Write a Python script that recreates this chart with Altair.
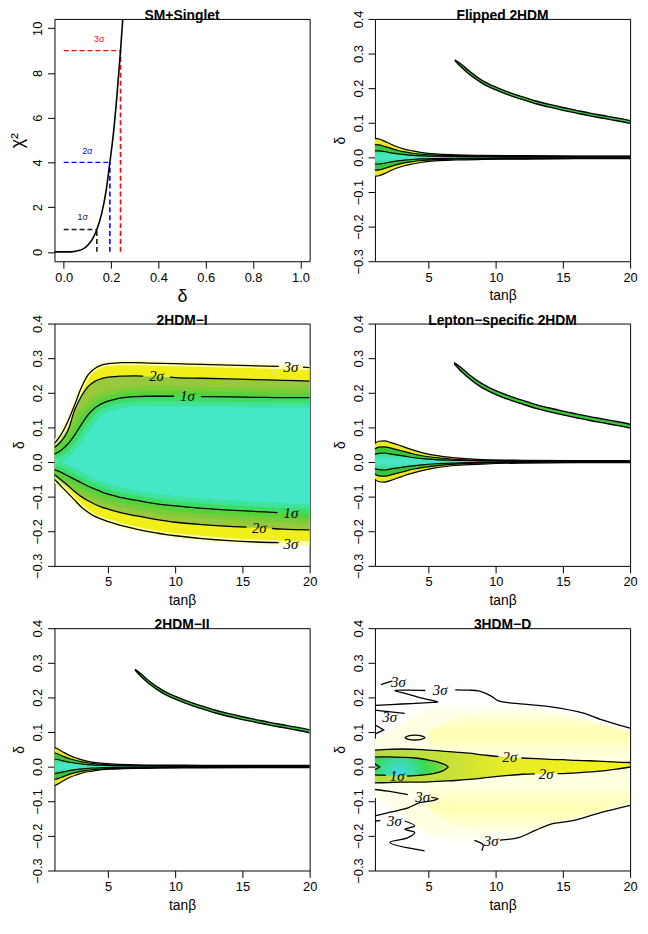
import altair as alt
import pandas as pd

FONT = "Liberation Sans"

# ================= panel titles =================
TITLES = ["SM+Singlet", "Flipped 2HDM", "2HDM−I", "Lepton−specific 2HDM", "2HDM−II", "3HDM−D"]

# ================= SM+Singlet =================
SM_DELTA = [-0.04, 0.0, 0.02, 0.04, 0.06, 0.08, 0.10, 0.12, 0.14, 0.16, 0.18, 0.195, 0.21, 0.225, 0.24, 0.25]
SM_CHI2 = [0.0, 0.0, 0.0, 0.01, 0.05, 0.12, 0.28, 0.55, 1.0, 1.7, 2.8, 4.0, 5.3, 7.0, 9.0, 10.5]
SM_LEVEL_NAME = ["1σ", "2σ", "3σ"]
SM_LEVEL_CHI2 = [1, 4, 9]
SM_LEVEL_DELTA = [0.14, 0.195, 0.24]
SM_LEVEL_COLOR = ["#1a1a1a", "#0000ff", "#ff0000"]
SM_LABEL_X = [0.08, 0.10, 0.15]
SM_LABEL_Y = [1.55, 4.5, 9.5]

# ================= 2HDM-I =================
T1_X = [1, 1.5, 2, 2.5, 3, 3.5, 4, 4.5, 5, 5.5, 6, 7, 8, 10, 12, 14, 16, 18, 20]
T1_U3 = [0.054, 0.080, 0.118, 0.165, 0.215, 0.252, 0.270, 0.280, 0.284, 0.286, 0.287, 0.287, 0.286, 0.284, 0.282, 0.280, 0.278, 0.275, 0.273]
T1_U2 = [0.042, 0.060, 0.090, 0.150, 0.190, 0.218, 0.233, 0.241, 0.245, 0.247, 0.248, 0.249, 0.247, 0.244, 0.242, 0.240, 0.238, 0.236, 0.234]
T1_U1 = [0.023, 0.034, 0.052, 0.078, 0.108, 0.136, 0.156, 0.168, 0.176, 0.181, 0.185, 0.189, 0.190, 0.190, 0.189, 0.188, 0.187, 0.186, 0.186]
T1_L1 = [-0.022, -0.030, -0.040, -0.050, -0.060, -0.070, -0.078, -0.086, -0.093, -0.098, -0.103, -0.110, -0.117, -0.127, -0.134, -0.139, -0.143, -0.147, -0.150]
T1_L2 = [-0.036, -0.052, -0.068, -0.085, -0.100, -0.112, -0.122, -0.130, -0.136, -0.142, -0.147, -0.155, -0.162, -0.174, -0.181, -0.186, -0.190, -0.194, -0.196]
T1_L3 = [-0.050, -0.070, -0.090, -0.110, -0.130, -0.145, -0.157, -0.165, -0.172, -0.178, -0.184, -0.193, -0.201, -0.213, -0.221, -0.227, -0.231, -0.234, -0.236]
# contour lines (None = gap for the label)
T1_U3_LX = [1, 1.5, 2, 2.5, 3, 3.5, 4, 4.5, 5, 5.5, 6, 7, 8, 10, 12, 14, 16, 17.7, None, 19.5, 20]
T1_U3_LY = [0.054, 0.080, 0.118, 0.165, 0.215, 0.252, 0.270, 0.280, 0.284, 0.286, 0.287, 0.287, 0.286, 0.284, 0.282, 0.280, 0.278, 0.276, None, 0.274, 0.273]
T1_U2_LX = [1, 1.5, 2, 2.5, 3, 3.5, 4, 4.5, 5, 5.5, 6, 7, 7.6, None, 9.6, 10, 12, 14, 16, 18, 20]
T1_U2_LY = [0.042, 0.060, 0.090, 0.150, 0.190, 0.218, 0.233, 0.241, 0.245, 0.247, 0.248, 0.249, 0.248, None, 0.245, 0.244, 0.242, 0.240, 0.238, 0.236, 0.234]
T1_U1_LX = [1, 1.5, 2, 2.5, 3, 3.5, 4, 4.5, 5, 5.5, 6, 7, 8, 9.9, None, 11.9, 14, 16, 18, 20]
T1_U1_LY = [0.023, 0.034, 0.052, 0.078, 0.108, 0.136, 0.156, 0.168, 0.176, 0.181, 0.185, 0.189, 0.190, 0.190, None, 0.189, 0.188, 0.187, 0.186, 0.186]
T1_L1_LX = [1, 1.5, 2, 2.5, 3, 3.5, 4, 4.5, 5, 5.5, 6, 7, 8, 10, 12, 14, 16, 17.6]
T1_L1_LY = [-0.022, -0.030, -0.040, -0.050, -0.060, -0.070, -0.078, -0.086, -0.093, -0.098, -0.103, -0.110, -0.117, -0.127, -0.134, -0.139, -0.143, -0.146]
T1_L2_LX = [1, 1.5, 2, 2.5, 3, 3.5, 4, 4.5, 5, 5.5, 6, 7, 8, 10, 12, 14, 15.3, None, 17.2, 18, 20]
T1_L2_LY = [-0.036, -0.052, -0.068, -0.085, -0.100, -0.112, -0.122, -0.130, -0.136, -0.142, -0.147, -0.155, -0.162, -0.174, -0.181, -0.186, -0.188, None, -0.192, -0.194, -0.196]
T1_L3_LX = [1, 1.5, 2, 2.5, 3, 3.5, 4, 4.5, 5, 5.5, 6, 7, 8, 10, 12, 14, 16, 17.7]
T1_L3_LY = [-0.050, -0.070, -0.090, -0.110, -0.130, -0.145, -0.157, -0.165, -0.172, -0.178, -0.184, -0.193, -0.201, -0.213, -0.221, -0.227, -0.231, -0.233]
T1_LAB_X = [18.6, 8.6, 10.9, 18.6, 16.25, 18.6]
T1_LAB_Y = [0.273, 0.248, 0.190, -0.148, -0.192, -0.236]
T1_LAB_T = ["3σ", "2σ", "1σ", "1σ", "2σ", "3σ"]

# ================= narrow-band models =================
NB_X = [1, 1.3, 1.7, 2.2, 2.7, 3.2, 3.8, 4.5, 5.5, 7, 9, 12, 16, 20]
# Flipped 2HDM
FL_U3 = [0.055, 0.053, 0.047, 0.038, 0.030, 0.024, 0.019, 0.014, 0.010, 0.0075, 0.006, 0.005, 0.004, 0.004]
FL_U2 = [0.037, 0.036, 0.032, 0.026, 0.020, 0.016, 0.012, 0.009, 0.0065, 0.005, 0.004, 0.0035, 0.003, 0.003]
FL_U1 = [0.019, 0.019, 0.017, 0.013, 0.010, 0.008, 0.006, 0.0045, 0.0035, 0.0025, 0.002, 0.0015, 0.0015, 0.0015]
FL_L1 = [-0.019, -0.019, -0.017, -0.013, -0.010, -0.008, -0.006, -0.0045, -0.0035, -0.0025, -0.002, -0.0015, -0.0015, -0.0015]
FL_L2 = [-0.037, -0.036, -0.032, -0.026, -0.020, -0.016, -0.012, -0.009, -0.0065, -0.005, -0.004, -0.0035, -0.003, -0.003]
FL_L3 = [-0.055, -0.053, -0.047, -0.038, -0.030, -0.024, -0.019, -0.014, -0.010, -0.0075, -0.006, -0.005, -0.004, -0.004]
FL_SX = [6.95, 7.5, 8, 9, 10, 11, 12, 13, 14, 15, 16, 17, 18, 19, 20]
FL_SU = [0.282, 0.267, 0.250, 0.222, 0.203, 0.188, 0.175, 0.163, 0.153, 0.144, 0.136, 0.128, 0.121, 0.114, 0.106]
FL_SL = [0.280, 0.258, 0.241, 0.214, 0.195, 0.180, 0.167, 0.155, 0.145, 0.136, 0.128, 0.120, 0.113, 0.106, 0.098]
# Lepton-specific 2HDM
LS_U3 = [0.054, 0.060, 0.061, 0.056, 0.050, 0.043, 0.035, 0.027, 0.019, 0.012, 0.007, 0.005, 0.004, 0.004]
LS_U2 = [0.038, 0.043, 0.044, 0.040, 0.035, 0.030, 0.024, 0.018, 0.013, 0.008, 0.005, 0.004, 0.003, 0.003]
LS_U1 = [0.022, 0.025, 0.026, 0.023, 0.020, 0.017, 0.013, 0.010, 0.007, 0.005, 0.003, 0.002, 0.002, 0.002]
LS_L1 = [-0.019, -0.022, -0.023, -0.020, -0.017, -0.014, -0.011, -0.008, -0.005, -0.003, -0.001, 0.000, 0.000, 0.000]
LS_L2 = [-0.035, -0.040, -0.041, -0.037, -0.032, -0.027, -0.021, -0.016, -0.011, -0.006, -0.003, -0.001, 0.000, 0.000]
LS_L3 = [-0.050, -0.057, -0.058, -0.053, -0.046, -0.039, -0.032, -0.025, -0.017, -0.010, -0.006, -0.003, -0.002, -0.002]
LS_SX = [6.9, 7.5, 8, 9, 10, 11, 12, 13, 14, 15, 16, 17, 18, 19, 20]
LS_SU = [0.287, 0.270, 0.253, 0.226, 0.206, 0.191, 0.178, 0.166, 0.156, 0.147, 0.139, 0.131, 0.124, 0.117, 0.109]
LS_SL = [0.284, 0.259, 0.242, 0.214, 0.195, 0.180, 0.167, 0.155, 0.145, 0.136, 0.128, 0.120, 0.113, 0.106, 0.098]
# 2HDM-II
T2_U3 = [0.056, 0.050, 0.041, 0.031, 0.024, 0.018, 0.013, 0.010, 0.0075, 0.0055, 0.0045, 0.004, 0.0035, 0.0035]
T2_U2 = [0.040, 0.036, 0.029, 0.022, 0.017, 0.013, 0.009, 0.007, 0.005, 0.004, 0.003, 0.0025, 0.002, 0.002]
T2_U1 = [0.022, 0.020, 0.016, 0.012, 0.009, 0.007, 0.005, 0.004, 0.003, 0.002, 0.0015, 0.001, 0.001, 0.001]
T2_L1 = [-0.020, -0.018, -0.015, -0.011, -0.008, -0.006, -0.004, -0.003, -0.002, -0.0015, -0.001, -0.0008, -0.0005, -0.0005]
T2_L2 = [-0.038, -0.034, -0.028, -0.021, -0.016, -0.012, -0.009, -0.007, -0.005, -0.0035, -0.0025, -0.002, -0.0015, -0.0015]
T2_L3 = [-0.055, -0.049, -0.040, -0.030, -0.023, -0.017, -0.013, -0.009, -0.007, -0.005, -0.004, -0.0035, -0.003, -0.003]
T2_SX = [7.0, 7.5, 8, 9, 10, 11, 12, 13, 14, 15, 16, 17, 18, 19, 20]
T2_SU = [0.281, 0.266, 0.249, 0.222, 0.203, 0.188, 0.175, 0.163, 0.153, 0.144, 0.136, 0.128, 0.121, 0.114, 0.106]
T2_SL = [0.279, 0.258, 0.241, 0.214, 0.195, 0.180, 0.167, 0.155, 0.145, 0.136, 0.128, 0.120, 0.113, 0.106, 0.098]

# ================= 3HDM-D =================
D_PX = [1, 3, 5, 7, 9, 11, 13, 15, 17, 19, 20]
D_P1U = [0.08, 0.12, 0.17, 0.19, 0.19, 0.18, 0.17, 0.155, 0.135, 0.115, 0.105]
D_P1L = [-0.09, -0.14, -0.20, -0.23, -0.225, -0.21, -0.19, -0.165, -0.14, -0.115, -0.105]
D_P2X = [5, 7, 9, 11, 13, 15, 17, 19, 20]
D_P2U = [0.10, 0.14, 0.16, 0.165, 0.16, 0.15, 0.13, 0.11, 0.10]
D_P2L = [-0.12, -0.17, -0.19, -0.19, -0.175, -0.155, -0.135, -0.115, -0.105]
D_TX = [1, 2, 3, 4, 5, 6, 7, 8, 9, 10, 11, 12, 13, 14, 15, 16, 17, 18, 19, 20]
D_TU = [0.048, 0.050, 0.051, 0.050, 0.048, 0.045, 0.042, 0.039, 0.034, 0.030, 0.027, 0.025, 0.023, 0.021, 0.020, 0.018, 0.017, 0.015, 0.013, 0.012]
D_TL = [-0.047, -0.046, -0.045, -0.045, -0.044, -0.042, -0.040, -0.037, -0.033, -0.029, -0.025, -0.022, -0.021, -0.020, -0.020, -0.018, -0.015, -0.012, -0.007, -0.001]
D_BX = [1, 1.5, 2, 3, 4, 5, 5.5, 6, 6.3, 6.45]
D_BU = [0.0275, 0.028, 0.028, 0.027, 0.025, 0.019, 0.015, 0.009, 0.004, -0.001]
D_BL = [-0.024, -0.025, -0.026, -0.027, -0.026, -0.022, -0.019, -0.013, -0.006, -0.001]
# contour lines
D_1S_X = [1, 1.5, 2, 3, 4, 5, 5.5, 6, 6.3, 6.45, 6.3, 6, 5.5, 5, 4, 3.4, None, 1.8, 1.4, 1]
D_1S_Y = [0.0275, 0.028, 0.028, 0.027, 0.025, 0.019, 0.015, 0.009, 0.004, -0.001, -0.006, -0.013, -0.019, -0.022, -0.026, -0.027, None, -0.025, -0.0245, -0.024]
D_NOTCH_X = [1, 1.35, 1]
D_NOTCH_Y = [0.008, -0.001, -0.009]
D_2SU_X = [1, 2, 3, 4, 5, 6, 7, 8, 9, 10, 10.2, None, 11.9, 13, 14, 15, 16, 17, 18, 19, 20]
D_2SU_Y = [0.048, 0.050, 0.051, 0.050, 0.048, 0.045, 0.042, 0.039, 0.034, 0.030, 0.029, None, 0.025, 0.023, 0.021, 0.020, 0.018, 0.017, 0.015, 0.013, 0.012]
D_2SL_X = [1, 2, 3, 4, 5, 6, 7, 8, 9, 10, 11, 12, 12.9, None, 14.6, 15, 16, 17, 18, 19, 20]
D_2SL_Y = [-0.047, -0.046, -0.045, -0.045, -0.044, -0.042, -0.040, -0.037, -0.033, -0.029, -0.025, -0.022, -0.021, None, -0.020, -0.020, -0.018, -0.015, -0.012, -0.007, -0.001]
D_3A_X = [1.0, 3.0, 5.0, 5.69, 4.5, 3.3, 2.48, 3.5, 4.75, None, 6.98, 8.0, 8.7, 9.3, 9.69, 10.19, 11.67, 14.14, 16.6, 17.85, 20]
D_3A_Y = [0.177, 0.181, 0.185, 0.187, 0.198, 0.211, 0.220, 0.221, 0.220, None, 0.222, 0.221, 0.219, 0.211, 0.203, 0.190, 0.182, 0.173, 0.154, 0.136, 0.111]
D_3B_X = [1.0, 2.0, 3.22]
D_3B_Y = [0.163, 0.159, 0.154]
D_3C_X = [1.45, 1.9, 2.3]
D_3C_Y = [0.237, 0.243, 0.247]
D_3D_X = [1.0, 1.65, 1.0]
D_3D_Y = [0.121, 0.106, 0.094]
D_3E_X = [3.22, 3.5, 3.96, 4.45, 4.72, 4.45, 3.96, 3.5, 3.22]
D_3E_Y = [0.084, 0.089, 0.091, 0.089, 0.084, 0.079, 0.077, 0.079, 0.084]
D_3F_X = [1.0, 2.2, 3.45, None, 5.2, 5.7, 5.2, 4.33, 3.47, 2.2, 1.0]
D_3F_Y = [-0.066, -0.072, -0.081, None, -0.089, -0.093, -0.099, -0.104, -0.119, -0.131, -0.142]
D_3G_X = [1.0, 1.4]
D_3G_Y = [-0.157, -0.156]
D_3H_X = [3.22, 3.96, 3.22, 3.96, 3.47, 2.11, 4.7]
D_3H_Y = [-0.157, -0.171, -0.181, -0.190, -0.205, -0.219, -0.243]
D_3I_X = [8.95, 9.05, 8.4, None, 10.3, 11.7, 12.9, 14.1, 15.6, 17.8, 20]
D_3I_Y = [-0.243, -0.226, -0.213, None, -0.212, -0.205, -0.185, -0.166, -0.157, -0.133, -0.112]
D_LAB_X = [5.85, 2.75, 2.1, 11.05, 2.65, 13.75, 4.55, 2.45, 9.65]
D_LAB_Y = [0.221, 0.245, 0.143, 0.027, -0.028, -0.021, -0.088, -0.157, -0.216]
D_LAB_T = ["3σ", "3σ", "3σ", "2σ", "1σ", "2σ", "3σ", "3σ", "3σ"]

# ================= helpers =================
W, H = 258, 245
SM_XAX = dict(values=[0, 0.2, 0.4, 0.6, 0.8, 1.0], format=".1f", title="δ",
              titleFontSize=18, titlePadding=4, labelFlush=False, labelOverlap=False)
SM_YAX = dict(values=[0, 2, 4, 6, 8, 10], format="d", title="χ²",
              titleFontSize=18, titlePadding=5, labelFlush=False, labelOverlap=False)
SM_XSC = dict(domain=[-0.039, 1.039], nice=False, zero=False)
SM_YSC = dict(domain=[-0.42, 10.42], nice=False, zero=False)


def xenc(sm=False, field="x"):
    if sm:
        return alt.X(f"{field}:Q", scale=alt.Scale(**SM_XSC), axis=alt.Axis(**SM_XAX))
    return alt.X(f"{field}:Q", scale=alt.Scale(domain=[1, 20], nice=False, zero=False),
                 axis=alt.Axis(values=[5, 10, 15, 20], format="d", title="tanβ",
                               titleFontSize=14, titlePadding=5, labelFlush=False, labelOverlap=False))


def yenc(sm=False, field="y"):
    if sm:
        return alt.Y(f"{field}:Q", scale=alt.Scale(**SM_YSC), axis=alt.Axis(**SM_YAX))
    return alt.Y(f"{field}:Q", scale=alt.Scale(domain=[-0.3, 0.4], nice=False, zero=False),
                 axis=alt.Axis(values=[-0.3, -0.2, -0.1, 0.0, 0.1, 0.2, 0.3, 0.4], format=".1f", title="δ",
                               titleFontSize=14, titlePadding=5, labelFlush=False, labelOverlap=False))


def area(xv, lo, hi, fill, interp="monotone", opacity=1.0):
    df = pd.DataFrame({"x": xv, "y": lo, "y2": hi})
    return alt.Chart(df).mark_area(color=fill, clip=True, interpolate=interp, opacity=opacity).encode(
        x=xenc(), y=yenc(), y2=alt.Y2("y2"))


def line(xv, yv, color="black", width=1.3, interp="monotone", opacity=1.0, sm=False):
    rows, seg = [], 0
    for i, (a, b) in enumerate(zip(xv, yv)):
        if a is None or b is None:
            seg += 1
            continue
        rows.append({"x": a, "y": b, "seg": seg, "i": i})
    return alt.Chart(pd.DataFrame(rows)).mark_line(
        color=color, strokeWidth=width, interpolate=interp, clip=True, opacity=opacity, strokeCap="butt"
    ).encode(x=xenc(sm), y=yenc(sm), detail="seg:N", order="i:Q")


def labels(xv, yv, tv, size=15):
    df = pd.DataFrame({"x": xv, "y": yv, "t": tv})
    return alt.Chart(df).mark_text(font="Liberation Serif", fontStyle="italic", fontSize=size,
                                   color="black", baseline="middle", clip=True).encode(
        x=xenc(), y=yenc(), text="t:N")


def panel_title(text):
    return alt.Chart(pd.DataFrame({"t": [text]})).mark_text(
        font=FONT, fontSize=14, fontWeight="bold", color="black", baseline="alphabetic", align="center"
    ).encode(x=alt.value(W / 2), y=alt.value(1), text="t:N")


def grad_v(stops):
    return alt.LinearGradient(gradient="linear", x1=0, y1=0, x2=0, y2=1,
                              stops=[alt.GradientStop(color=c, offset=o) for o, c in stops])


def grad_h(stops):
    return alt.LinearGradient(gradient="linear", x1=0, y1=0, x2=1, y2=0,
                              stops=[alt.GradientStop(color=c, offset=o) for o, c in stops])


# ================= panel 1: SM+Singlet =================
lev = pd.DataFrame({"name": SM_LEVEL_NAME, "c": SM_LEVEL_CHI2, "d": SM_LEVEL_DELTA,
                    "col": SM_LEVEL_COLOR, "lx": SM_LABEL_X, "ly": SM_LABEL_Y, "zero": [0, 0, 0]})
sm_curve = alt.Chart(pd.DataFrame({"x": SM_DELTA, "y": SM_CHI2})).mark_line(
    color="black", strokeWidth=1.6, interpolate="monotone", clip=True).encode(x=xenc(True), y=yenc(True))
sm_h = alt.Chart(lev).mark_rule(strokeDash=[5, 3], strokeWidth=1.3).encode(
    x=xenc(True, "zero"), x2=alt.X2("d"), y=yenc(True, "c"), color=alt.Color("col:N", scale=None))
sm_v = alt.Chart(lev).mark_rule(strokeDash=[5, 3], strokeWidth=1.6).encode(
    x=xenc(True, "d"), y=yenc(True, "zero"), y2=alt.Y2("c"), color=alt.Color("col:N", scale=None))
sm_txt = alt.Chart(lev).mark_text(font=FONT, fontSize=9, baseline="middle").encode(
    x=xenc(True, "lx"), y=yenc(True, "ly"), text="name:N", color=alt.Color("col:N", scale=None))
p1 = alt.layer(sm_h, sm_v, sm_curve, sm_txt, panel_title(TITLES[0])).properties(width=W, height=H)


# ================= narrow-band panel builder =================
def narrow_panel(title, U3, U2, U1, L1, L2, L3, SX, SU, SL):
    layers = [
        area(NB_X, L3, U3, "#EAEA1C"),
        area(NB_X, L2, U2, "#36C836"),
        area(NB_X, L1, U1, grad_v([(0, "#3CD878"), (0.35, "#44E6C4"), (0.65, "#44E6C4"), (1, "#3CD878")])),
        area(SX, SL, SU, "#3CC83C"),
    ]
    for arr in (U3, U2, U1, L1, L2, L3):
        layers.append(line(NB_X, arr, width=1.2))
    layers.append(line(SX, SU, width=1.4))
    layers.append(line(SX, SL, width=1.4))
    layers.append(panel_title(title))
    return alt.layer(*layers).properties(width=W, height=H)


p2 = narrow_panel(TITLES[1], FL_U3, FL_U2, FL_U1, FL_L1, FL_L2, FL_L3, FL_SX, FL_SU, FL_SL)
p4 = narrow_panel(TITLES[3], LS_U3, LS_U2, LS_U1, LS_L1, LS_L2, LS_L3, LS_SX, LS_SU, LS_SL)
p5 = narrow_panel(TITLES[4], T2_U3, T2_U2, T2_U1, T2_L1, T2_L2, T2_L3, T2_SX, T2_SU, T2_SL)

# ================= 2HDM-I =================
t1_layers = [
    area(T1_X, T1_L3, T1_U3, "#F0F018"),
    line(T1_X, T1_U3, color="#FFFFB8", width=5, opacity=0.9),
    line(T1_X, T1_L3, color="#FFFFB8", width=5, opacity=0.9),
    area(T1_X, T1_L2, T1_U2, "#98C83C"),
    area(T1_X, T1_L1, T1_U1, "#44E8C8"),
    line(T1_X, T1_U1, color="#38D838", width=20, opacity=0.3),
    line(T1_X, T1_L1, color="#38D838", width=20, opacity=0.3),
    line(T1_X, T1_U1, color="#38D838", width=10, opacity=0.55),
    line(T1_X, T1_L1, color="#38D838", width=10, opacity=0.55),
    line(T1_U3_LX, T1_U3_LY), line(T1_U2_LX, T1_U2_LY), line(T1_U1_LX, T1_U1_LY),
    line(T1_L1_LX, T1_L1_LY), line(T1_L2_LX, T1_L2_LY), line(T1_L3_LX, T1_L3_LY),
    labels(T1_LAB_X, T1_LAB_Y, T1_LAB_T),
    panel_title(TITLES[2]),
]
p3 = alt.layer(*t1_layers).properties(width=W, height=H)

# ================= 3HDM-D =================
d_layers = [
    area(D_PX, D_P1L, D_P1U, grad_v([(0, "rgba(255,255,200,0)"), (0.2, "#FFFFE0"), (0.4, "#FFFFEE"),
                                     (0.6, "#FFFFEE"), (0.8, "#FFFFE0"), (1, "rgba(255,255,200,0)")])),
    area(D_P2X, D_P2L, D_P2U, grad_v([(0, "rgba(255,255,170,0)"), (0.2, "rgba(255,255,170,0.85)"),
                                      (0.4, "rgba(255,255,210,0.5)"), (0.6, "rgba(255,255,210,0.5)"),
                                      (0.8, "rgba(255,255,170,0.85)"), (1, "rgba(255,255,170,0)")])),
    area(D_TX, D_TL, D_TU, grad_h([(0, "#B4DC40"), (0.3, "#C8E038"), (0.5, "#E6EC28"), (1, "#F4F418")])),
    area(D_BX, D_BL, D_BU, alt.RadialGradient(
        gradient="radial", x1=0.33, y1=0.62, r1=0.0, x2=0.33, y2=0.62, r2=0.75,
        stops=[alt.GradientStop(color="#3ED8E8", offset=0), alt.GradientStop(color="#3CDCA8", offset=0.25),
               alt.GradientStop(color="#3CD850", offset=0.5), alt.GradientStop(color="#80D83C", offset=0.8),
               alt.GradientStop(color="#B8DC30", offset=1)])),
    line(D_1S_X, D_1S_Y, interp="catmull-rom"),
    line(D_NOTCH_X, D_NOTCH_Y, interp="linear"),
    line(D_2SU_X, D_2SU_Y),
    line(D_2SL_X, D_2SL_Y),
    line(D_3A_X, D_3A_Y, interp="catmull-rom"),
    line(D_3B_X, D_3B_Y, interp="catmull-rom"),
    line(D_3C_X, D_3C_Y, interp="catmull-rom"),
    line(D_3D_X, D_3D_Y, interp="linear"),
    line(D_3E_X, D_3E_Y, interp="catmull-rom"),
    line(D_3F_X, D_3F_Y, interp="catmull-rom"),
    line(D_3G_X, D_3G_Y, interp="linear"),
    line(D_3H_X, D_3H_Y, interp="catmull-rom"),
    line(D_3I_X, D_3I_Y, interp="catmull-rom"),
    labels(D_LAB_X, D_LAB_Y, D_LAB_T),
    panel_title(TITLES[5]),
]
p6 = alt.layer(*d_layers).properties(width=W, height=H)

chart = alt.concat(p1, p2, p3, p4, p5, p6, columns=2, spacing={"row": 63, "column": 66}, bounds="flush").properties(
    padding={"left": 0, "top": -5, "right": 2, "bottom": 2}
).configure_view(stroke="black", strokeWidth=1).configure_axis(
    labelFont=FONT, labelFontSize=13, labelColor="black", labelPadding=3,
    tickColor="black", tickSize=7, tickWidth=1, domain=False, grid=False,
    titleFont=FONT, titleFontWeight="normal", titleColor="black"
).configure_axisY(
    labelAngle=270, labelAlign="center", labelBaseline="bottom"
)

chart.save("out.html", embed_options={"renderer": "svg", "actions": False})
